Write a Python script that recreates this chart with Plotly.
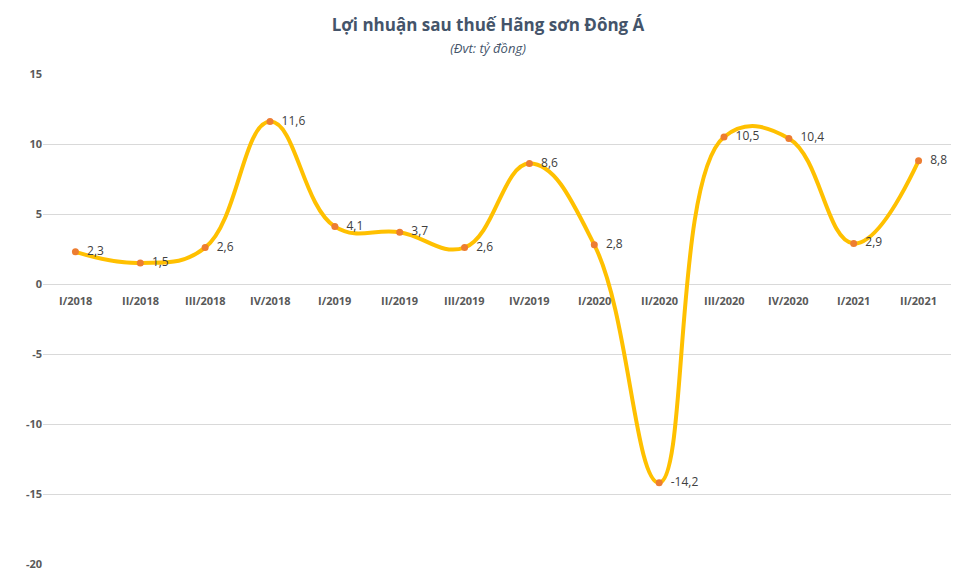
import plotly.graph_objects as go

categories = ["I/2018","II/2018","III/2018","IV/2018","I/2019","II/2019","III/2019","IV/2019",
              "I/2020","II/2020","III/2020","IV/2020","I/2021","II/2021"]
profit = [2.3,1.5,2.6,11.6,4.1,3.7,2.6,8.6,2.8,-14.2,10.5,10.4,2.9,8.8]
y_ticks = [15,10,5,0,-5,-10,-15,-20]

fig = go.Figure()
fig.add_trace(go.Scatter(
    x=list(range(len(categories))), y=profit, mode="lines+markers+text",
    line=dict(color="#FFC000", width=4, shape="spline", smoothing=1.2),
    marker=dict(color="#ED7D31", size=7),
    text=["  " + f"{v:.1f}".replace(".", ",") for v in profit],
    textposition="middle right", textfont=dict(color="#404040", size=12, family="Open Sans"),
    cliponaxis=False, hoverinfo="skip"))

for i, c in enumerate(categories):
    fig.add_annotation(x=i, y=0, text=f"<b>{c}</b>", showarrow=False, yshift=-16,
                       font=dict(size=11, color="#595959", family="Open Sans"))

fig.update_layout(
    width=960, height=576, plot_bgcolor="white", paper_bgcolor="white", showlegend=False,
    margin=dict(l=35, r=17, t=66, b=20),
    title=dict(text="<b>Lợi nhuận sau thuế Hãng sơn Đông Á</b><br><span style='font-size:13px'><i>(Đvt: tỷ đồng)</i></span>",
               x=0.5, xanchor="center", y=0.96, yanchor="top",
               font=dict(size=17, color="#44546A", family="Open Sans")),
    xaxis=dict(range=[-0.5, len(categories) - 0.5], showticklabels=False, showgrid=False, zeroline=False),
    yaxis=dict(range=[-20, 15], tickvals=y_ticks, ticktext=[f"<b>{v}</b>" for v in y_ticks],
               gridcolor="#D9D9D9", zeroline=True, zerolinecolor="#D9D9D9", zerolinewidth=1,
               tickfont=dict(size=11, color="#595959", family="Open Sans")),
)
fig.write_html("out.html")
